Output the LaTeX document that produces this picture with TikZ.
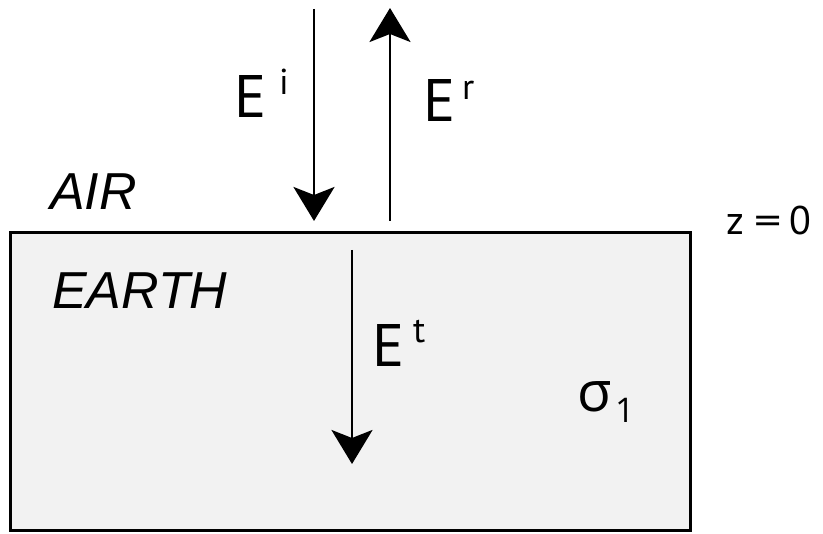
\documentclass[tikz,border=0pt]{standalone}
\usepackage{fontspec}
\setmainfont{PT Sans}
\newfontfamily\greekfont{Open Sans}
\newfontfamily\regionfont{Liberation Sans}
\usepackage{graphicx}
\usetikzlibrary{arrows.meta}
\definecolor{earthgray}{HTML}{F2F2F2}
\tikzset{
  lbl/.style={inner sep=0pt, anchor=base west},
  big/.style={lbl, font=\fontsize{60}{60}\selectfont},
  sup/.style={lbl, font=\fontsize{36}{36}\selectfont},
  region/.style={lbl, font=\fontsize{52}{52}\regionfont\itshape},
  wave/.style={line width=2.8pt, -{Stealth[length=34pt, width=41pt, inset=8pt]}}
}
\begin{document}
\begin{tikzpicture}[x=1pt, y=-1pt]
  \useasboundingbox (0,0) rectangle (823,534);
  % earth block
  \draw[line width=3pt, fill=earthgray] (10,233) rectangle (690,531);
  % connector end points
  \coordinate (itop) at (314,9);
  \coordinate (ibot) at (314,221);
  \coordinate (rbot) at (390,221);
  \coordinate (rtop) at (390,8);
  \coordinate (ttop) at (352,250);
  \coordinate (tbot) at (352,464);
  \draw[wave] (itop) -- (ibot);
  \draw[wave] (rbot) -- (rtop);
  \draw[wave] (ttop) -- (tbot);
  % labels
  \node[big] (Ei) at (234,118) {E};
  \node[sup] (Eis) at (279,95) {i};
  \node[big] (Er) at (423,122) {E};
  \node[sup] (Ers) at (462,100) {r};
  \node[big] (Et) at (372,367) {E};
  \node[sup] (Ets) at (413,343) {t};
  \node[region] (air) at (50,210) {AIR};
  \node[region] (earth) at (52,309) {EARTH};
  \node[lbl, font=\fontsize{40}{40}\selectfont] (z0) at (726,235) {z\hspace{10pt}\scalebox{1.35}[1]{=}\hspace{8pt}0};
  \node[lbl, font=\fontsize{56}{56}\greekfont] (sig) at (577,412) {σ};
  \node[lbl, font=\fontsize{34}{34}\greekfont] (sig1) at (615,423) {1};
\end{tikzpicture}
\end{document}
